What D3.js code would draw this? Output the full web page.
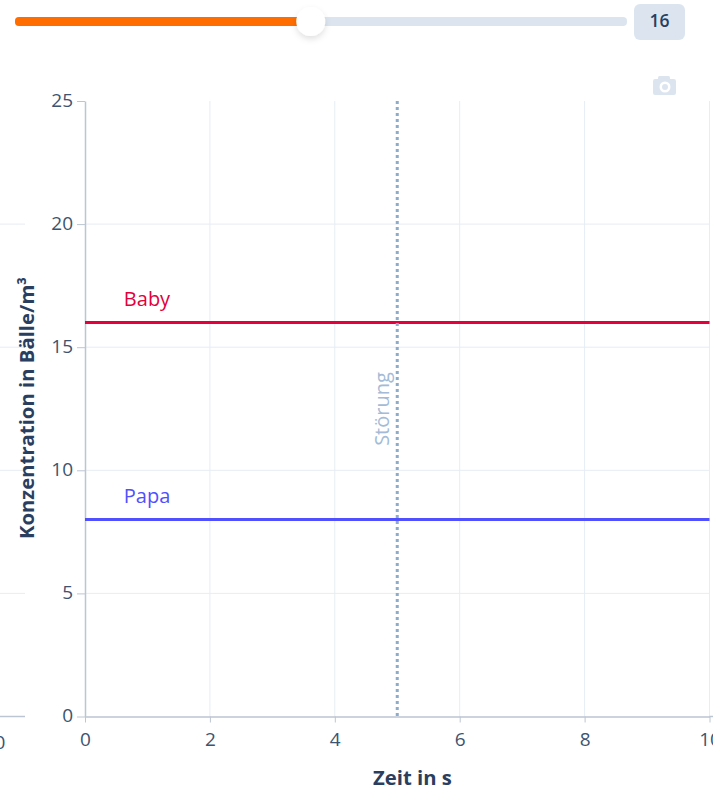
<!DOCTYPE html>
<html>
<head>
<meta charset="utf-8">
<script src="https://cdn.jsdelivr.net/npm/d3@7"></script>
<style>
  html, body { margin: 0; padding: 0; background: #fff; overflow: hidden; }
  svg { display: block; font-family: "Open Sans", sans-serif; }
</style>
</head>
<body>
<script>
// -- data --
var xTicks = [0, 2, 4, 6, 8, 10];
var yTicks = [0, 5, 10, 15, 20, 25];
var seriesNames = ["Baby", "Papa"];
var seriesValues = [16, 8];
var seriesColors = ["#e4003a", "#5050ff"];
var disturbanceTime = 5;
var disturbanceLabel = "Störung";
var sliderValue = 16;
var sliderMax = 33;

var svg = d3.select("body").append("svg")
  .attr("width", 722)
  .attr("height", 790);

var x = d3.scaleLinear().domain([0, 10]).range([85, 709.5]);
var y = d3.scaleLinear().domain([0, 25]).range([716.5, 101]);
var sliderX = d3.scaleLinear().domain([0, sliderMax]).range([15, 625]);

var inkColor = "#2a3f5f";
var tickColor = "#3c5470";
var gridColor = "#e6edf4";
var axisColor = "#bcc5d2";
var trackColor = "#dce5ef";
var tickFont = 19;

// ---- slider ----
var defs = svg.append("defs");
var shadow = defs.append("filter").attr("id", "knobShadow")
  .attr("x", "-50%").attr("y", "-50%").attr("width", "200%").attr("height", "200%");
shadow.append("feDropShadow")
  .attr("dx", 0).attr("dy", 3).attr("stdDeviation", 3)
  .attr("flood-color", "#000").attr("flood-opacity", 0.12);

// chart is cut off at the right edge of its frame
defs.append("clipPath").attr("id", "frame")
  .append("rect").attr("x", 0).attr("y", 0).attr("width", 713).attr("height", 790);

svg.append("rect")
  .attr("x", sliderX(0)).attr("y", 17)
  .attr("width", sliderX(sliderMax) - sliderX(0) + 2).attr("height", 9).attr("rx", 4)
  .attr("fill", trackColor);
svg.append("rect")
  .attr("x", sliderX(0)).attr("y", 17)
  .attr("width", sliderX(sliderValue) - sliderX(0)).attr("height", 9).attr("rx", 4)
  .attr("fill", "#ff6d00");
svg.append("circle")
  .attr("cx", sliderX(sliderValue)).attr("cy", 21.5).attr("r", 14.5)
  .attr("fill", "#fff").attr("filter", "url(#knobShadow)");

svg.append("rect")
  .attr("x", 634).attr("y", 4).attr("width", 51).attr("height", 36).attr("rx", 6)
  .attr("fill", trackColor);
svg.append("text")
  .attr("x", 659.5).attr("y", 27)
  .attr("text-anchor", "middle")
  .attr("font-size", 17.5).attr("font-weight", 600)
  .attr("fill", inkColor)
  .text(sliderValue);

// ---- camera icon ----
var cam = svg.append("g").attr("fill", trackColor);
cam.append("rect").attr("x", 653).attr("y", 79).attr("width", 23).attr("height", 16).attr("rx", 2);
cam.append("rect").attr("x", 658).attr("y", 76).attr("width", 12).attr("height", 5).attr("rx", 1.5);
cam.append("circle").attr("cx", 665).attr("cy", 87).attr("r", 5.5).attr("fill", "#fff");
cam.append("circle").attr("cx", 665).attr("cy", 87).attr("r", 3);

var chart = svg.append("g").attr("clip-path", "url(#frame)");

// ---- grid ----
chart.append("g").selectAll("line").data(xTicks.slice(1)).enter().append("line")
  .attr("x1", function(d) { return x(d); })
  .attr("x2", function(d) { return x(d); })
  .attr("y1", y(25)).attr("y2", y(0))
  .attr("stroke", gridColor).attr("stroke-width", 1);

chart.append("g").selectAll("line").data(yTicks.slice(1, -1)).enter().append("line")
  .attr("x1", x(0)).attr("x2", x(10))
  .attr("y1", function(d) { return y(d); })
  .attr("y2", function(d) { return y(d); })
  .attr("stroke", gridColor).attr("stroke-width", 1);

// left neighbour panel, only its right edge is in view
chart.append("g").selectAll("line").data(yTicks.slice(1, -1)).enter().append("line")
  .attr("x1", 0).attr("x2", 25)
  .attr("y1", function(d) { return y(d); })
  .attr("y2", function(d) { return y(d); })
  .attr("stroke", gridColor).attr("stroke-width", 1);
chart.append("line")
  .attr("x1", 0).attr("x2", 25)
  .attr("y1", y(0)).attr("y2", y(0))
  .attr("stroke", axisColor).attr("stroke-width", 1.5);
chart.append("text")
  .attr("x", -5.5).attr("y", 749)
  .attr("text-anchor", "middle")
  .attr("font-size", tickFont).attr("fill", tickColor)
  .text("10");

// ---- axes ----
var xAxis = d3.axisBottom(x).tickValues(xTicks).tickSize(6).tickPadding(10).tickSizeOuter(0);
var yAxis = d3.axisLeft(y).tickValues(yTicks).tickSize(8).tickPadding(4).tickSizeOuter(0);

var gx = chart.append("g").attr("transform", "translate(0," + y(0) + ")").call(xAxis);
var gy = chart.append("g").attr("transform", "translate(" + x(0) + ",0)").call(yAxis);

// x axis line runs on a little past the last tick
chart.append("line")
  .attr("x1", x(10)).attr("x2", 713)
  .attr("y1", y(0)).attr("y2", y(0))
  .attr("stroke", axisColor).attr("stroke-width", 1.5);

[gx, gy].forEach(function(g) {
  g.select(".domain").attr("stroke", axisColor).attr("stroke-width", 1.5);
  g.selectAll(".tick line").attr("stroke", axisColor);
  g.selectAll(".tick text")
    .attr("fill", tickColor)
    .attr("font-family", "Open Sans")
    .attr("font-size", tickFont);
});
gy.selectAll(".tick text").attr("dy", "0.27em");

// ---- series ----
chart.append("g").selectAll("line").data(seriesValues).enter().append("line")
  .attr("x1", x(0)).attr("x2", x(10))
  .attr("y1", function(d) { return y(d); })
  .attr("y2", function(d) { return y(d); })
  .attr("stroke", function(d, i) { return seriesColors[i]; })
  .attr("stroke-width", 3);

chart.append("g").selectAll("text").data(seriesValues).enter().append("text")
  .attr("x", 147)
  .attr("y", function(d) { return y(d) - 17; })
  .attr("text-anchor", "middle")
  .attr("font-size", 20)
  .attr("fill", function(d, i) { return seriesColors[i]; })
  .text(function(d, i) { return seriesNames[i]; });

// ---- disturbance marker ----
chart.append("line")
  .attr("x1", x(disturbanceTime)).attr("x2", x(disturbanceTime))
  .attr("y1", y(25)).attr("y2", y(0))
  .attr("stroke", "#8fabca")
  .attr("stroke-width", 3)
  .attr("stroke-dasharray", "3,3");

chart.append("text")
  .attr("transform", "translate(389,409) rotate(-90)")
  .attr("text-anchor", "middle")
  .attr("font-size", 20)
  .attr("fill", "#a3bbd6")
  .text(disturbanceLabel);

// ---- axis titles ----
svg.append("text")
  .attr("x", 412.5).attr("y", 785)
  .attr("text-anchor", "middle")
  .attr("font-size", 20.3).attr("font-weight", 700)
  .attr("fill", inkColor)
  .text("Zeit in s");

svg.append("text")
  .attr("transform", "translate(33.5,408) rotate(-90)")
  .attr("text-anchor", "middle")
  .attr("font-size", 20.3).attr("font-weight", 700)
  .attr("fill", inkColor)
  .text("Konzentration in Bälle/m³");
</script>
</body>
</html>
